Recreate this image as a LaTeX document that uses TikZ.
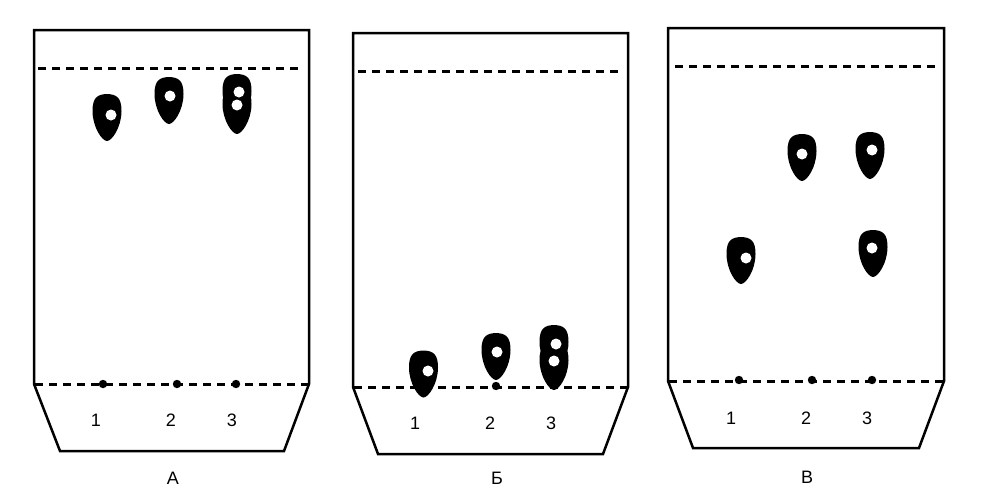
\documentclass[tikz,border=0pt]{standalone}
\usepackage{fontspec}
\setmainfont{Liberation Sans}
\newcommand{\dropshape}[2]{%
  \fill[black] (#1,#2+47) .. controls (#1-5,#2+47) and (#1-14.5,#2+33) .. (#1-14.5,#2+17)
   .. controls (#1-14.5,#2+4) and (#1-10,#2+0.3) .. (#1,#2)
   .. controls (#1+10,#2+0.3) and (#1+14.5,#2+4) .. (#1+14.5,#2+17)
   .. controls (#1+14.5,#2+33) and (#1+5,#2+47) .. (#1,#2+47) -- cycle;}
\newcommand{\blobshape}[2]{%
  \fill[black] (#1-14.5,#2+17) .. controls (#1-14.5,#2+4) and (#1-10,#2+0.3) .. (#1,#2)
   .. controls (#1+10,#2+0.3) and (#1+14.5,#2+4) .. (#1+14.5,#2+17)
   .. controls (#1+14.5,#2+30) and (#1+9,#2+36) .. (#1,#2+36)
   .. controls (#1-9,#2+36) and (#1-14.5,#2+30) .. (#1-14.5,#2+17) -- cycle;}
\newcommand{\holedot}[2]{\fill[white] (#1,#2) circle[radius=5.5];}
\newcommand{\startdot}[2]{\fill[black] (#1,#2) circle[radius=4.2];}
\tikzset{
  frameline/.style={draw=black,line width=2.5pt,line join=miter},
  frontline/.style={draw=black,line width=3pt,dash pattern=on 8pt off 6pt},
  lab/.style={font=\fontsize{18}{20}\selectfont,inner sep=0pt}
}
\begin{document}
\begin{tikzpicture}[x=1pt,y=-1pt]
\useasboundingbox (0,0) rectangle (992,501);
\fill[white] (0,0) rectangle (992,501);
% Panel A
\draw[frameline] (34,384) -- (34,30) -- (309,30) -- (309,384) -- (284,451) -- (60,451) -- cycle;
\draw[frontline] (38,68) -- (301,68);
\draw[frontline] (35,384) -- (309,384);
\startdot{103}{384}\startdot{177}{384}\startdot{236}{384}
\dropshape{107}{94}\holedot{111}{115}
\dropshape{169}{77}\holedot{170}{96}
\blobshape{237}{74}\dropshape{237}{87}\holedot{239}{92}\holedot{237}{105}
\node[lab] (a1) at (96,420) {1};
\node[lab] (a2) at (171,420) {2};
\node[lab] (a3) at (232,420) {3};
\node[lab] (capa) at (173,478) {А};
% Panel B
\draw[frameline] (353,387) -- (353,33) -- (628,33) -- (628,387) -- (603,454) -- (378,454) -- cycle;
\draw[frontline] (358,71) -- (621,71);
\draw[frontline] (354,387) -- (628,387);
\startdot{496}{386}
\dropshape{423.5}{350.5}\holedot{428}{371}
\dropshape{496}{333}\holedot{497}{352}
\blobshape{554}{325}\dropshape{554}{343}\holedot{556}{344}\holedot{554}{361}
\node[lab] (b1) at (415,423) {1};
\node[lab] (b2) at (490,423) {2};
\node[lab] (b3) at (551,423) {3};
\node[lab] (capb) at (497,478) {Б};
% Panel V
\draw[frameline] (668,381) -- (668,28) -- (944,28) -- (944,381) -- (919,448) -- (693,448) -- cycle;
\draw[frontline] (675,66) -- (936,66);
\draw[frontline] (669,381) -- (944,381);
\startdot{739}{380}\startdot{812}{380}\startdot{872}{380}
\dropshape{741}{237}\holedot{746}{258}
\dropshape{802}{134}\holedot{802}{154}
\dropshape{870}{132}\holedot{872}{150}
\dropshape{873}{230}\holedot{872}{248}
\node[lab] (v1) at (731,418) {1};
\node[lab] (v2) at (806,418) {2};
\node[lab] (v3) at (867,418) {3};
\node[lab] (capv) at (807,477) {В};
\end{tikzpicture}
\end{document}
